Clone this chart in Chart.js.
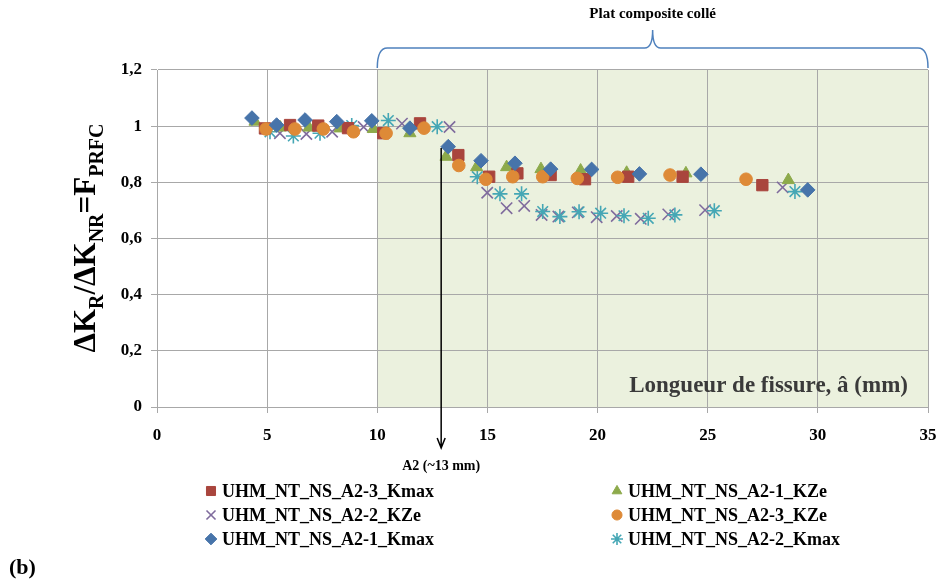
<!DOCTYPE html>
<html>
<head>
<meta charset="utf-8">
<script src="https://cdn.jsdelivr.net/npm/chart.js@4"></script>
<style>
  body { margin: 0; background: #fff; }
  canvas { display: block; }
</style>
</head>
<body>
<canvas id="myChart" width="941" height="583"></canvas>
<script>
// crack length a (mm) and ratio values
const kmaxA23_x = [4.9, 6.04, 7.32, 8.67, 10.27, 11.94, 13.68, 15.08, 16.36, 17.87, 19.43, 21.39, 23.86, 27.48];
const kmaxA23_y = [0.992, 1.004, 1.002, 0.993, 0.975, 1.01, 0.897, 0.82, 0.832, 0.826, 0.811, 0.82, 0.82, 0.79];

const kzeA21_x = [4.45, 5.6, 6.9, 8.31, 9.82, 11.48, 13.12, 14.51, 15.87, 17.43, 19.23, 21.32, 24.01, 28.66];
const kzeA21_y = [1.016, 0.995, 0.995, 0.992, 0.99, 0.975, 0.891, 0.854, 0.854, 0.847, 0.842, 0.834, 0.832, 0.808];

const kzeA22_x = [5.58, 6.78, 7.95, 9.38, 11.12, 13.28, 14.99, 15.87, 16.67, 17.46, 18.22, 19.1, 19.96, 20.87, 21.96, 23.21, 24.88, 28.4];
const kzeA22_y = [0.975, 0.972, 0.98, 0.997, 1.009, 0.997, 0.763, 0.708, 0.716, 0.684, 0.678, 0.693, 0.676, 0.68, 0.67, 0.686, 0.701, 0.782];

const kzeA23_x = [4.95, 6.26, 7.55, 8.92, 10.4, 12.12, 13.7, 14.93, 16.15, 17.51, 19.08, 20.91, 23.29, 26.74];
const kzeA23_y = [0.99, 0.99, 0.99, 0.98, 0.975, 0.993, 0.86, 0.811, 0.82, 0.82, 0.814, 0.818, 0.826, 0.811];

const kmaxA21_x = [4.31, 5.43, 6.72, 8.16, 9.75, 11.48, 13.22, 14.71, 16.25, 17.87, 19.73, 21.9, 24.69, 29.54];
const kmaxA21_y = [1.029, 1.004, 1.022, 1.016, 1.019, 0.993, 0.927, 0.877, 0.868, 0.847, 0.846, 0.83, 0.829, 0.773];

const kmaxA22_x = [5.13, 6.19, 7.4, 8.84, 10.5, 12.72, 14.54, 15.57, 16.55, 17.51, 18.29, 19.16, 20.14, 21.2, 22.3, 23.51, 25.3, 28.96];
const kmaxA22_y = [0.98, 0.965, 0.975, 1.002, 1.02, 0.998, 0.82, 0.759, 0.759, 0.696, 0.678, 0.695, 0.69, 0.681, 0.672, 0.684, 0.699, 0.767];

const xTicks = [0, 5, 10, 15, 20, 25, 30, 35];
const yTicks = ['0', '0,2', '0,4', '0,6', '0,8', '1', '1,2'];

const compositeStart = 10;
const compositeEnd = 35;
const a2Position = 12.9;

const serif = '"Liberation Serif", "DejaVu Serif", serif';

function pts(xs, ys) {
    return xs.map((x, i) => ({ x: x, y: ys[i] }));
}

const series = [
    { label: 'UHM_NT_NS_A2-3_Kmax', data: pts(kmaxA23_x, kmaxA23_y), pointStyle: 'rect', color: '#A9453D', radius: 8, border: 1 },
    { label: 'UHM_NT_NS_A2-1_KZe', data: pts(kzeA21_x, kzeA21_y), pointStyle: 'triangle', color: '#8DAA4B', radius: 7, border: 1 },
    { label: 'UHM_NT_NS_A2-2_KZe', data: pts(kzeA22_x, kzeA22_y), pointStyle: 'crossRot', color: '#7F6B9D', radius: 8, border: 1.6 },
    { label: 'UHM_NT_NS_A2-3_KZe', data: pts(kzeA23_x, kzeA23_y), pointStyle: 'circle', color: '#DE8A37', radius: 6.3, border: 1 },
    { label: 'UHM_NT_NS_A2-1_Kmax', data: pts(kmaxA21_x, kmaxA21_y), pointStyle: 'rectRot', color: '#4774AA', radius: 7.3, border: 1 },
    { label: 'UHM_NT_NS_A2-2_Kmax', data: pts(kmaxA22_x, kmaxA22_y), pointStyle: 'star', color: '#45A7B5', radius: 7.5, border: 1.6 }
];

// order in which markers are drawn (last on top)
const drawOrder = [2, 5, 1, 0, 3, 4];

function drawMarker(ctx, s, x, y, scale) {
    ctx.save();
    ctx.fillStyle = s.color;
    ctx.strokeStyle = s.color;
    ctx.lineWidth = s.border;
    Chart.helpers.drawPoint(ctx, {
        pointStyle: s.pointStyle,
        radius: s.radius * scale,
        borderWidth: s.border,
        rotation: 0
    }, x, y);
    ctx.restore();
}

const decorations = {
    id: 'decorations',
    beforeDraw(chart) {
        const ctx = chart.ctx;
        const area = chart.chartArea;
        const xs = chart.scales.x;
        ctx.save();
        ctx.fillStyle = '#fff';
        ctx.fillRect(0, 0, chart.width, chart.height);
        const x0 = xs.getPixelForValue(compositeStart);
        const x1 = xs.getPixelForValue(compositeEnd);
        ctx.fillStyle = '#EBF1DE';
        ctx.fillRect(x0, area.top, x1 - x0, area.bottom - area.top);
        ctx.restore();
    },
    afterDatasetsDraw(chart) {
        const ctx = chart.ctx;
        const area = chart.chartArea;
        const xs = chart.scales.x;
        ctx.save();

        // brace above the composite zone
        const bx0 = xs.getPixelForValue(compositeStart);
        const bx1 = xs.getPixelForValue(compositeEnd);
        const bm = (bx0 + bx1) / 2;
        const by = 48, bb = area.top - 2, bt = 30;
        ctx.strokeStyle = '#4F81BD';
        ctx.lineWidth = 1.5;
        ctx.beginPath();
        ctx.moveTo(bx0, bb);
        ctx.quadraticCurveTo(bx0, by, bx0 + 10, by);
        ctx.lineTo(bm - 8, by);
        ctx.quadraticCurveTo(bm, by, bm, bt);
        ctx.quadraticCurveTo(bm, by, bm + 8, by);
        ctx.lineTo(bx1 - 10, by);
        ctx.quadraticCurveTo(bx1, by, bx1, bb);
        ctx.stroke();

        ctx.fillStyle = '#000';
        ctx.font = 'bold 15px ' + serif;
        ctx.textAlign = 'center';
        ctx.textBaseline = 'middle';
        ctx.fillText('Plat composite collé', bm, 14);

        // A2 arrow
        const ax = xs.getPixelForValue(a2Position);
        ctx.strokeStyle = '#000';
        ctx.lineWidth = 1.5;
        ctx.beginPath();
        ctx.moveTo(ax, 148);
        ctx.lineTo(ax, 448);
        ctx.moveTo(ax - 4, 438);
        ctx.lineTo(ax, 448);
        ctx.lineTo(ax + 4, 438);
        ctx.stroke();
        ctx.font = 'bold 14px ' + serif;
        ctx.fillText('A2 (~13 mm)', ax, 466);

        // axis title inside plot
        ctx.fillStyle = '#3A3A3A';
        ctx.font = 'bold 23px ' + serif;
        ctx.textAlign = 'right';
        ctx.fillText('Longueur de fissure, â (mm)', 908, 386);

        // y axis title with subscripts
        ctx.fillStyle = '#000';
        ctx.translate(85, 238);
        ctx.rotate(-Math.PI / 2);
        const parts = [
            ['ΔK', 31, 0], ['R', 20, 8], ['/ΔK', 31, 0], ['NR', 20, 8], ['=F', 31, 0], ['PRFC', 20, 8]
        ];
        let total = 0;
        parts.forEach(p => { ctx.font = 'bold ' + p[1] + 'px ' + serif; total += ctx.measureText(p[0]).width; });
        let cx = -total / 2;
        ctx.textAlign = 'left';
        ctx.textBaseline = 'alphabetic';
        parts.forEach(p => {
            ctx.font = 'bold ' + p[1] + 'px ' + serif;
            ctx.fillText(p[0], cx, 10 + p[2]);
            cx += ctx.measureText(p[0]).width;
        });
        ctx.setTransform(1, 0, 0, 1, 0, 0);

        // legend
        const legendPos = [
            [211, 491], [617, 491],
            [211, 515], [617, 515],
            [211, 539], [617, 539]
        ];
        ctx.font = 'bold 18px ' + serif;
        ctx.textBaseline = 'middle';
        series.forEach((s, i) => {
            const p = legendPos[i];
            drawMarker(ctx, s, p[0], p[1], 0.8);
            ctx.fillStyle = '#000';
            ctx.textAlign = 'left';
            ctx.fillText(s.label, p[0] + 11, p[1] + 1);
        });
        ctx.font = 'bold 22px ' + serif;
        ctx.fillText('(b)', 9, 568);
        ctx.restore();
    }
};

const ctx = document.getElementById('myChart');

new Chart(ctx, {
    type: 'scatter',
    data: {
        datasets: drawOrder.map(i => {
            const s = series[i];
            return {
                label: s.label,
                data: s.data,
                pointStyle: s.pointStyle,
                pointRadius: s.radius,
                pointHoverRadius: s.radius,
                pointBackgroundColor: s.color,
                pointBorderColor: s.color,
                pointBorderWidth: s.border,
                order: drawOrder.length - drawOrder.indexOf(i)
            };
        })
    },
    options: {
        responsive: false,
        animation: false,
        events: [],
        layout: { padding: { left: 0, right: 13, top: 70, bottom: 0 } },
        plugins: {
            legend: { display: false },
            tooltip: { enabled: false }
        },
        scales: {
            x: {
                type: 'linear',
                min: 0,
                max: 35,
                afterBuildTicks(scale) {
                    scale.ticks = xTicks.map(v => ({ value: v }));
                },
                afterFit(scale) {
                    scale.height = 176;
                    scale.paddingLeft = 0;
                    scale.paddingRight = 0;
                },
                grid: { color: '#A8A8A8', lineWidth: 1, tickLength: 6 },
                border: { color: '#A8A8A8' },
                ticks: {
                    color: '#000',
                    padding: 12,
                    maxRotation: 0,
                    font: { family: serif, size: 17, weight: 'bold' }
                }
            },
            y: {
                type: 'linear',
                min: 0,
                max: 1.2,
                afterBuildTicks(scale) {
                    scale.ticks = yTicks.map((t, i) => ({ value: i * 0.2 }));
                },
                afterFit(scale) {
                    scale.width = 157;
                    scale.paddingTop = 0;
                    scale.paddingBottom = 0;
                },
                grid: { color: '#A8A8A8', lineWidth: 1, tickLength: 6 },
                border: { color: '#A8A8A8' },
                ticks: {
                    color: '#000',
                    padding: 9,
                    font: { family: serif, size: 17, weight: 'bold' },
                    callback: (v, i) => yTicks[i]
                }
            }
        }
    },
    plugins: [decorations]
});
</script>
</body>
</html>
